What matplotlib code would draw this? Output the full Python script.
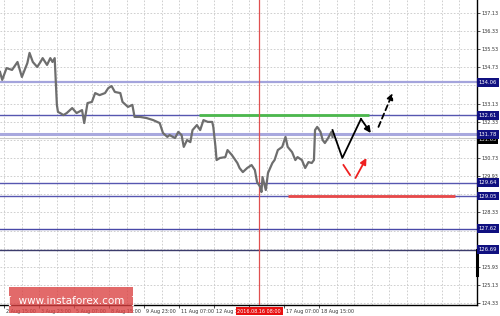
import matplotlib
matplotlib.use("Agg")
import matplotlib.pyplot as plt
import matplotlib.transforms as mtransforms
from matplotlib.patches import Rectangle

# ---------------- data ----------------
bars = [0, 2, 6, 11, 16, 20, 25, 27, 30, 34, 37, 39, 43, 46, 48, 50, 52, 53, 55, 58,
        61, 66, 70, 75, 77, 80, 84, 87, 91, 96, 99, 102, 105, 110, 112, 117, 121, 123,
        128, 134, 140, 146, 149, 153, 155, 160, 163, 166, 168, 171, 174, 176, 180, 183,
        186, 190, 194, 195, 197, 198, 201, 206, 208, 212, 217, 219, 222, 226, 230, 233,
        235, 238, 239, 240, 243, 245, 249, 251, 254, 258, 261, 263, 267, 270, 272, 276,
        279, 282, 285, 287, 288, 290, 293, 295, 297, 300, 303, 304]
prices = [134.52, 134.17, 134.69, 134.61, 134.96, 134.30, 134.91, 135.36, 134.96, 134.74,
          134.96, 135.13, 134.83, 135.13, 134.96, 135.13, 133.07, 132.76, 132.71, 132.62,
          132.71, 132.93, 132.71, 132.84, 132.27, 133.15, 133.20, 133.59, 133.50, 133.59,
          133.81, 133.90, 133.64, 133.59, 133.20, 132.98, 133.07, 132.54, 132.54, 132.49,
          132.40, 132.27, 131.83, 131.66, 131.74, 131.61, 131.88, 131.74, 131.22, 131.52,
          131.43, 131.96, 132.18, 131.96, 132.40, 132.32, 132.32, 132.10, 131.22, 130.64,
          130.73, 130.77, 131.08, 130.86, 130.51, 130.29, 130.11, 130.29, 130.42, 130.20,
          129.67, 129.45, 129.23, 129.89, 129.32, 130.07, 130.51, 130.64, 131.08, 131.22,
          131.66, 131.22, 130.99, 130.64, 130.77, 130.64, 130.29, 130.55, 130.51, 130.64,
          131.96, 132.10, 131.88, 131.52, 131.39, 131.61, 131.88, 131.66]

tick_bars = [4, 36, 68, 100, 132, 164, 196, 228, 260, 292]
tick_labels = ["2 Aug 15:00", "3 Aug 23:00", "5 Aug 07:00", "8 Aug 15:00", "9 Aug 23:00",
               "11 Aug 07:00", "12 Aug 15:00", "", "17 Aug 07:00", "18 Aug 15:00"]
ytick_vals = [124.33, 125.13, 125.93, 126.73, 127.53, 128.33, 129.13, 129.93, 130.73,
              131.53, 132.33, 133.13, 133.93, 134.73, 135.53, 136.33, 137.13]
ytick_labels = ["124.33", "125.13", "125.93", "", "", "128.33", "", "129.93", "130.73",
                "", "132.33", "133.13", "", "134.73", "135.53", "136.33", "137.13"]
level_prices = [134.06, 132.61, 131.78, 129.64, 129.05, 127.62, 126.69]
level_labels = ["134.06", "132.61", "131.78", "129.64", "129.05", "127.62", "126.69"]
bid_price = 131.63
bid_label = "131.63"

green_level = 132.63
green_span = [182, 337]
red_level = 129.05
red_span = [263, 416]
vline_bar = 237
vline_label = "2016.08.16 08:00"

fc_bars = [304, 313, 330, 339]
fc_prices = [131.96, 130.73, 132.45, 131.83]
fc_dash_bars = [346, 359]
fc_dash_prices = [132.10, 133.59]
red_dash_bars = [314, 320]
red_dash_prices = [130.42, 129.98]
red_arrow_bars = [325, 335]
red_arrow_prices = [129.85, 130.73]

# ---------------- figure ----------------
W, H = 500, 316
FS = 3.5
fig = plt.figure(figsize=(5.0, 3.16), dpi=100)
ax = fig.add_axes([0.0, 11 / H, 476.7 / W, 1 - 11 / H])
ax.set_xlim(0, 435.8)
ax.set_ylim(124.255, 137.69)

# grid
grid_kw = dict(color="#c8c8c8", lw=0.6, ls=(0, (2, 2)), zorder=0)
for gx in range(4, 436, 16):
    ax.axvline(gx, **grid_kw)
for gy in ytick_vals:
    ax.axhline(gy, **grid_kw)

# level lines
level_styles = [("#a4a4dc", 1.6), ("#5656b0", 1.0), ("#a8a8de", 2.2), ("#5656b0", 1.0),
                ("#5656b0", 1.0), ("#4848a8", 1.0), ("#3c3c6c", 1.0)]
for p, (c, lw) in zip(level_prices, level_styles):
    ax.axhline(p, color=c, lw=lw, zorder=2)
ax.axhline(bid_price, color="#c8c8c8", lw=0.8, zorder=2)

ax.plot(green_span, [green_level, green_level], color="#4cb84c", lw=2, zorder=3,
        solid_capstyle="butt")
ax.plot(red_span, [red_level, red_level], color="#e84848", lw=2, zorder=3,
        solid_capstyle="butt")
ax.axvline(vline_bar, color="#e05050", lw=0.9, zorder=3)

# price
ax.plot(bars, prices, color="#6e6e6e", lw=1.6, zorder=4)

# forecast
ax.plot(fc_bars[:-1], fc_prices[:-1], color="black", lw=1.3, zorder=5)
arrow_kw = dict(arrowstyle="-|>", lw=1.3, mutation_scale=9, shrinkA=0, shrinkB=0)
ax.annotate("", xy=(fc_bars[-1], fc_prices[-1]), xytext=(fc_bars[-2], fc_prices[-2]),
            arrowprops=dict(color="black", **arrow_kw), zorder=5)
ax.annotate("", xy=(fc_dash_bars[1], fc_dash_prices[1]),
            xytext=(fc_dash_bars[0], fc_dash_prices[0]),
            arrowprops=dict(color="black", ls=(0, (3, 2)), **arrow_kw), zorder=5)
ax.plot(red_dash_bars, red_dash_prices, color="#ee2020", lw=1.3, zorder=5)
ax.annotate("", xy=(red_arrow_bars[1], red_arrow_prices[1]),
            xytext=(red_arrow_bars[0], red_arrow_prices[0]),
            arrowprops=dict(color="#ee2020", **arrow_kw), zorder=5)

# spines
for s in ["left", "top"]:
    ax.spines[s].set_visible(False)
for s in ["right", "bottom"]:
    ax.spines[s].set_color("black")
    ax.spines[s].set_linewidth(1.0)

# y ticks on right
ax.yaxis.tick_right()
ax.set_yticks(ytick_vals)
ax.set_yticklabels(ytick_labels)
ax.tick_params(axis="y", direction="out", length=2, width=0.6, pad=1.2,
               labelsize=FS, labelcolor="#333333", colors="#333333")

# x ticks
ax.set_xticks(tick_bars)
ax.set_xticklabels([])
ax.tick_params(axis="x", direction="out", length=2.5, width=0.6, colors="#333333")
trx = mtransforms.blended_transform_factory(ax.transData, ax.transAxes)
for b, lab in zip(tick_bars, tick_labels):
    if lab:
        ax.text(b + 1.5, -0.012, lab, transform=trx, ha="left", va="top",
                fontsize=FS, color="#333333", clip_on=False)

# right-side level label boxes
try_ = mtransforms.blended_transform_factory(ax.transAxes, ax.transData)
for p, lab in zip(level_prices, level_labels):
    ax.text(1.004, p, lab, transform=try_, ha="left", va="center", fontsize=3.8,
            color="white", clip_on=False, zorder=10,
            bbox=dict(boxstyle="square,pad=0.35", fc="#101080", ec="#101080", lw=0))
ax.text(1.004, bid_price - 0.1, bid_label, transform=try_, ha="left", va="center",
        fontsize=3.8, color="#dddddd", clip_on=False, zorder=9,
        bbox=dict(boxstyle="square,pad=0.3", fc="black", ec="black", lw=0))
ax.plot([1.0, 1.0], [level_prices[-1], 125.58], transform=try_, color="black", lw=2.2,
        clip_on=False, zorder=8)

# vertical line date label
ax.text(vline_bar, -0.012, vline_label, transform=trx, ha="center", va="top",
        fontsize=FS, color="white", clip_on=False, zorder=10,
        bbox=dict(boxstyle="square,pad=0.35", fc="#e81010", ec="#e81010", lw=0))

# watermark
fig.patches.append(Rectangle((9 / W, 3 / H), 124 / W, 26 / H, transform=fig.transFigure,
                             fc=(0.86, 0.25, 0.25, 0.78), ec="none", zorder=20))
fig.text(71 / W, 16 / H, "[  www.instaforex.com  ]", ha="center", va="center",
         fontsize=7.5, color="white", zorder=21)

fig.savefig("out.png", dpi=100, facecolor="white")
